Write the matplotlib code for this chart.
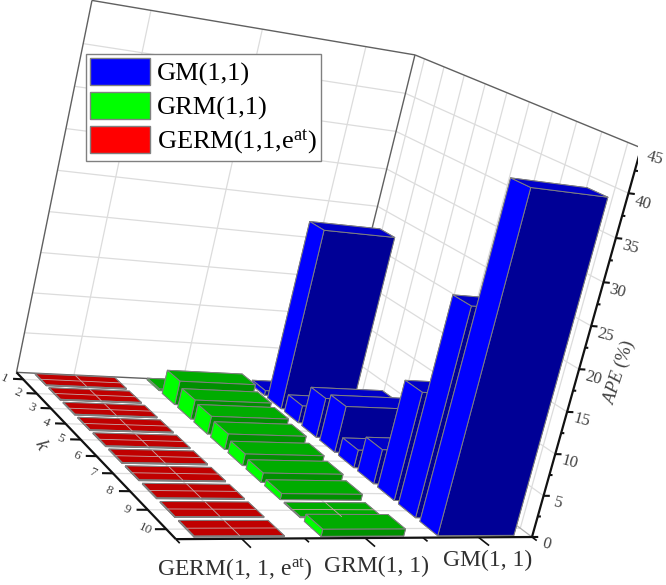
import numpy as np
import matplotlib
matplotlib.use("Agg")
import matplotlib.pyplot as plt
from matplotlib.patches import Patch
from mpl_toolkits.mplot3d import proj3d

plt.rcParams['font.family'] = ['Liberation Serif', 'DejaVu Serif']
plt.rcParams['mathtext.fontset'] = 'custom'
plt.rcParams['mathtext.rm'] = 'Liberation Serif'
plt.rcParams['mathtext.it'] = 'Liberation Serif:italic'

k = [1, 2, 3, 4, 5, 6, 7, 8, 9, 10]
models = ['GERM(1, 1, e$^{\\mathrm{at}}$)', 'GRM(1, 1)', 'GM(1, 1)']
legend_labels = ['GM(1,1)', 'GRM(1,1)', 'GERM(1,1,e$^{\\mathrm{at}}$)']
ape_germ = [0.1, 0.1, 0.1, 0.1, 0.1, 0.1, 0.1, 0.1, 0.1, 0.1]
ape_grm = [0.2, 3.0, 2.4, 2.2, 1.9, 1.4, 1.1, 0.7, 0.1, 0.8]
ape_gm = [0.6, 23.3, 2.2, 5.0, 5.8, 2.2, 4.2, 13.0, 24.7, 39.2]
z_ticks = [0, 5, 10, 15, 20, 25, 30, 35, 40, 45]

W, H = 666, 585
fig = plt.figure(figsize=(W / 100, H / 100), dpi=100)
# camera fitted to the axis corners of the original
ax = fig.add_axes([-35.8 / W, (H - 612.9) / H, 674.1 / W, 674.1 / H], projection='3d')
ax.computed_zorder = False
ax.set_proj_type('persp', focal_length=0.490)
ax.view_init(13.305, -122.792, -13.503)
ax.set_box_aspect((0.993, 1.001, 1))
ax.set_xlim(0.5, 3.5)
ax.set_ylim(10.5, 0.5)
ax.set_zlim(0, 45)
ax.set_xticks([])
ax.set_yticks([])
ax.set_zticks([])
ax.set_axis_off()

GRID = '#dcdcdc'
FRAME = '#606060'
x0, x1, k0, k1, ztop = 0.5, 3.5, 0.5, 10.5, 45


def line(xs, ys, zs, color=GRID, lw=0.9, zorder=1):
    ax.plot(xs, ys, zs, color=color, lw=lw, zorder=zorder, solid_capstyle='butt')


def label(x, y, z, s, **kw):
    # project by hand, so the text sits in the 2D axes coordinates
    px, py, _ = proj3d.proj_transform(x, y, z, ax.get_proj())
    ax.text2D(px, py, s, transform=ax.transData, ha='center', va='center',
              color='#404040', zorder=201, **kw)


# floor and wall grids
for v in k:
    line([x0, x1], [v, v], [0, 0])
    line([x1, x1], [v, v], [0, ztop])
for v in [1, 2, 3]:
    line([v, v], [k0, k1], [0, 0])
    line([v, v], [k0, k0], [0, ztop])
for v in z_ticks[1:-1]:
    line([x0, x1], [k0, k0], [v, v])
    line([x1, x1], [k0, k1], [v, v])

# wall frame
line([x0, x0], [k0, k0], [0, ztop], FRAME, 1.0)
line([x0, x1], [k0, k0], [ztop, ztop], FRAME, 1.0)
line([x1, x1], [k0, k0], [0, ztop], FRAME, 1.0)
line([x1, x1], [k0, k1], [ztop, ztop], FRAME, 1.0)
line([x0, x1], [k0, k0], [0, 0], FRAME, 1.0)
line([x1, x1], [k0, k1], [0, 0], '#b0b0b0', 0.9)

# bars, far ones first so the nearer ones paint over them
series = [
    (3, ape_gm, '#0000c8', '#000096', '#0000ff'),
    (2, ape_grm, '#00ac00', '#009000', '#00ff00'),
    (1, ape_germ, '#c00000', '#a00000', '#e00000'),
]
z = 2
for xc, vals, top, front, side in series:
    for kv, v in zip(k, vals):
        # bottom, top, back, front, left, right
        faces = ['#000000', top, front, front, side, side]
        ax.bar3d(xc - 0.35, kv - 0.4, 0, 0.7, 0.8, v, color=faces, shade=False,
                 edgecolor='#808080', linewidth=0.7, zorder=z)
        z += 1
    # nearly flat bars let the floor grid show through
    for kv, v in zip(k, vals):
        if v < 0.15:
            line([xc - 0.35, xc + 0.35], [kv, kv], [v, v], '#c8a8a8', 0.6, z)
            line([xc, xc], [kv - 0.4, kv + 0.4], [v, v], '#c8a8a8', 0.6, z)
    z += 1

# axis lines
AX = '#111111'
line([x0, x1], [k1, k1], [0, 0], AX, 1.6, 200)
line([x0, x0], [k0, k1], [0, 0], AX, 1.6, 200)
line([x1, x1], [k1, k1], [0, ztop], AX, 1.6, 200)
for v in np.arange(0.5, 3.6, 0.5):
    major = v in (1, 2, 3)
    line([v, v], [k1, k1 + (0.45 if major else 0.2)], [0, 0], AX, 1.2, 200)
for v in k:
    line([x0, x0 - 0.085], [v, v], [0, 0], AX, 1.5, 200)
    label(x0 - 0.16, v, 0, str(v), fontsize=9.5, rotation=-25)
for v in z_ticks:
    label(x1 + 0.155, k1, v - 0.9, str(v), fontsize=12, rotation=-15)
for v in np.arange(0, 45.1, 2.5):
    major = v % 5 == 0
    line([x1, x1 + (0.06 if major else 0.03)], [k1, k1], [v, v], AX, 1.5, 200)

# axis titles and category names
fig.text(40 / W, 1 - 445 / H, 'k', fontsize=14, rotation=-65, color='#404040',
         ha='center', va='center', style='italic')
fig.text(619 / W, 1 - 372 / H, '$\\mathit{APE}$ (%)', fontsize=13, rotation=72, color='#404040',
         ha='center', va='center')
for name, px, py in zip(models, [235, 376, 488], [570, 566, 560]):
    fig.text(px / W, 1 - py / H, name, fontsize=17, color='#303030', ha='center', va='center')

handles = [Patch(facecolor=c, edgecolor='#808080', lw=1) for c in ('#0000ff', '#00ff00', '#ff0000')]
ax.legend(handles, legend_labels, loc='upper left', bbox_to_anchor=(86 / W, 1 - 54 / H),
          bbox_transform=fig.transFigure, borderaxespad=0, fontsize=19, fancybox=False,
          framealpha=1, edgecolor='#808080', handlelength=2.27, handleheight=1.16,
          labelspacing=0.24, handletextpad=0.24, borderpad=0.17)

fig.savefig("out.png", dpi=100)
